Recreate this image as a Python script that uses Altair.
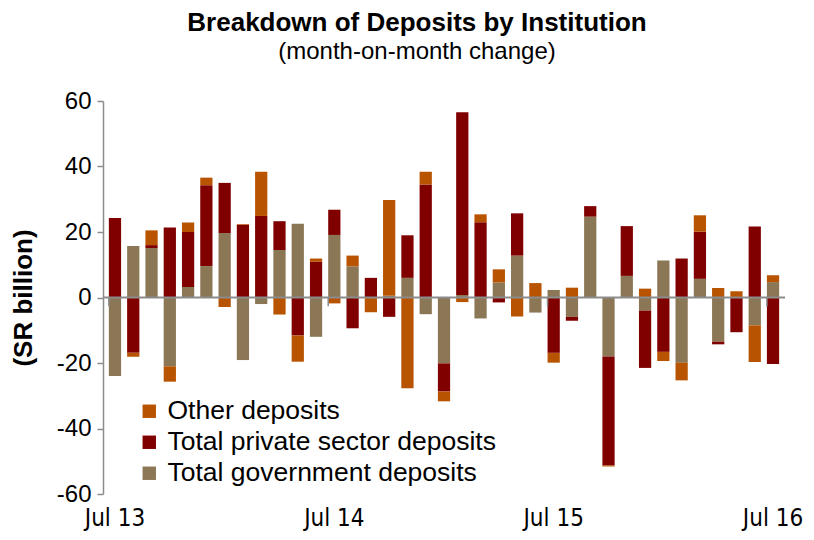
import altair as alt
import pandas as pd

months = ["Jul 13", "Aug 13", "Sep 13", "Oct 13", "Nov 13", "Dec 13",
          "Jan 14", "Feb 14", "Mar 14", "Apr 14", "May 14", "Jun 14",
          "Jul 14", "Aug 14", "Sep 14", "Oct 14", "Nov 14", "Dec 14",
          "Jan 15", "Feb 15", "Mar 15", "Apr 15", "May 15", "Jun 15",
          "Jul 15", "Aug 15", "Sep 15", "Oct 15", "Nov 15", "Dec 15",
          "Jan 16", "Feb 16", "Mar 16", "Apr 16", "May 16", "Jun 16",
          "Jul 16"]

government = [-24.0, 15.7, 15.1, -21.0, 3.2, 9.6, 19.7, -19.1, -2.0, 14.5,
              22.5, -12.0, 19.1, 9.5, 0.0, 0.5, 6.0, -5.1, -20.1, 0.8,
              -6.4, 4.6, 12.8, -4.6, 2.3, -5.9, 24.7, -18.0, 6.6, -4.0,
              11.3, -19.9, 5.7, -13.5, 0.0, -8.5, 4.7]
private = [24.3, -16.9, 0.9, 21.4, 16.8, 24.7, 15.3, 22.2, 24.9, 8.8,
           -11.6, 10.9, 7.7, -9.4, 6.0, -5.9, 13.0, 34.5, -8.6, 55.8,
           23.0, -1.5, 12.9, 0.0, -16.9, -1.2, 3.2, -33.3, 15.2, -17.5,
           -16.6, 11.9, 14.4, -0.8, -10.6, 21.7, -20.3]
other = [0.0, -1.2, 4.5, -4.7, 2.9, 2.3, -2.9, 0.2, 13.5, -5.2,
         -8.0, 1.0, -1.8, 3.3, -4.5, 29.3, -27.7, 3.9, -3.0, -1.4,
         2.4, 4.0, -5.8, 4.4, -3.0, 3.0, 0.0, -0.3, 0.0, 2.7,
         -2.8, -5.4, 5.0, 2.9, 1.9, -11.2, 2.1]

series_names = ["Other deposits", "Total private sector deposits", "Total government deposits"]
series_colors = ["#B85400", "#800000", "#8B7755"]
tick_months = ["Jul 13", "Jul 14", "Jul 15", "Jul 16"]

rows = []
for i, m in enumerate(months):
    rows.append({"month": m, "series": series_names[2], "value": government[i], "ord": 0})
    rows.append({"month": m, "series": series_names[1], "value": private[i], "ord": 1})
    rows.append({"month": m, "series": series_names[0], "value": other[i], "ord": 2})
df = pd.DataFrame(rows)
ticks_df = pd.DataFrame({"month": tick_months})

FONT = "Liberation Sans"
NARROW = "Liberation Sans Narrow, DejaVu Sans Condensed, Liberation Sans"

xscale = alt.Scale(domain=months, paddingInner=0.33, paddingOuter=0.32)

bars = alt.Chart(df).mark_bar().encode(
    x=alt.X("month:N", scale=xscale, sort=months,
            axis=alt.Axis(title=None, domain=False, ticks=False, labelAngle=0,
                          values=tick_months,
                          labelFont=NARROW, labelFontSize=24,
                          labelColor="#000000", labelPadding=12,
                          labelOverlap=False)),
    y=alt.Y("value:Q", stack="zero",
            scale=alt.Scale(domain=[-60, 60], nice=False),
            axis=alt.Axis(title="(SR billion)", values=[-60, -40, -20, 0, 20, 40, 60],
                          labelExpr="'' + datum.value",
                          grid=False, domainColor="#8c8c8c", domainWidth=1.5,
                          tickColor="#8c8c8c", tickSize=6, tickWidth=1.5,
                          labelFont=FONT, labelFontSize=24, labelColor="#000000",
                          labelPadding=6,
                          titleFont=FONT, titleFontSize=26, titleFontWeight="bold",
                          titleColor="#000000", titlePadding=20)),
    color=alt.Color("series:N",
                    scale=alt.Scale(domain=series_names, range=series_colors),
                    legend=alt.Legend(title=None, orient="none", legendX=33, legendY=297,
                                      symbolType="square", symbolSize=180,
                                      symbolStrokeWidth=0, labelFont=FONT,
                                      labelFontSize=26.5, labelColor="#000000",
                                      labelLimit=0,
                                      rowPadding=4, labelOffset=5)),
    order=alt.Order("ord:Q", sort="ascending"),
)

zero = alt.Chart(pd.DataFrame({"v": [0]})).mark_rule(color="#8c8c8c", strokeWidth=2).encode(
    y=alt.Y("v:Q", scale=alt.Scale(domain=[-60, 60], nice=False)),
)

xticks = alt.Chart(ticks_df).mark_rule(color="#8c8c8c", strokeWidth=1.5).encode(
    x=alt.X("month:N", scale=xscale, sort=months, bandPosition=0),
    y=alt.datum(0),
    y2=alt.datum(-2.7),
)

chart = alt.layer(bars, zero, xticks).properties(
    width=682, height=393,
    background="#ffffff",
    title=alt.TitleParams(
        text="Breakdown of Deposits by Institution",
        subtitle="(month-on-month change)",
        font=FONT, fontSize=26, fontWeight="bold", color="#000000",
        subtitleFont=FONT, subtitleFontSize=24, subtitleColor="#000000",
        subtitlePadding=4, anchor="middle", offset=25, dx=-27,
    ),
    autosize=alt.AutoSizeParams(type="none"),
    padding={"left": 95, "top": 93, "right": 21, "bottom": 38},
).configure_view(stroke=None, strokeWidth=0)

chart.save("out.html", embed_options={"renderer": "svg", "actions": False})
